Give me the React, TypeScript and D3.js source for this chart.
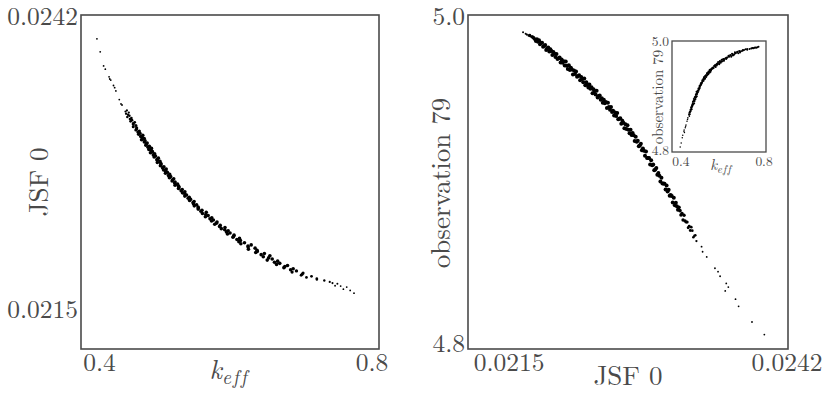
import { useRef, useEffect } from "react";
import * as d3 from "d3";

// posterior samples (same sample order in each array)
const keffSamples = [
  0.3962, 0.4010, 0.4060, 0.4085, 0.4140, 0.4150, 0.4165, 0.4205, 0.4222, 0.4240, 0.4290, 0.4315, 0.4330,
  0.4402, 0.4381, 0.4430, 0.4390, 0.4419, 0.4439, 0.4408, 0.4468, 0.4447, 0.4477, 0.4456, 0.4516, 0.4495,
  0.4495, 0.4535, 0.4495, 0.4545, 0.4545, 0.4534, 0.4584, 0.4564, 0.4594, 0.4574,
  0.4635, 0.4605, 0.4626, 0.4656, 0.4617, 0.4668, 0.4658, 0.4699, 0.4689, 0.4680,
  0.4731, 0.4712, 0.4763, 0.4724, 0.4756, 0.4777, 0.4748, 0.4809, 0.4790, 0.4821,
  0.4802, 0.4864, 0.4845, 0.4847, 0.4888, 0.4849, 0.4901, 0.4902, 0.4894, 0.4945,
  0.4927, 0.4979, 0.4941, 0.4973, 0.4996, 0.4968, 0.5030, 0.5012, 0.5044, 0.5026,
  0.5089, 0.5073, 0.5066, 0.5109, 0.5103, 0.5146, 0.5109, 0.5162, 0.5166, 0.5159,
  0.5214, 0.5198, 0.5253, 0.5218, 0.5253, 0.5277, 0.5252, 0.5317, 0.5301, 0.5336,
  0.5322, 0.5388, 0.5373, 0.5379, 0.5425, 0.5391, 0.5447, 0.5452, 0.5448, 0.5504,
  0.5488, 0.5567, 0.5511, 0.5560, 0.5595, 0.5554, 0.5648, 0.5622, 0.5671, 0.5645,
  0.5725, 0.5716, 0.5691, 0.5772, 0.5762, 0.5842, 0.5788, 0.5838, 0.5889, 0.5864,
  0.5916, 0.5878, 0.5975, 0.5967, 0.5959, 0.6055, 0.6017, 0.6069, 0.6046, 0.6128,
  0.6075, 0.6227, 0.6180, 0.6182, 0.6284, 0.6186, 0.6313, 0.6316, 0.6293, 0.6420,
  0.6373, 0.6501, 0.6404, 0.6482, 0.6535, 0.6462, 0.6615, 0.6568, 0.6646, 0.6599,
  0.6760, 0.6721, 0.6707, 0.6843, 0.6805, 0.6891, 0.6827, 0.6988, 0.6974, 0.6960,
  0.7112, 0.7038, 0.7190, 0.7191,
  0.7300, 0.7380, 0.7420, 0.7458, 0.7492, 0.7540, 0.7580, 0.7629, 0.7680, 0.7736,
];

const jsfSamples = [
  0.02398, 0.02386, 0.02373, 0.02370, 0.02363, 0.02361, 0.02360, 0.02355, 0.02353, 0.02350, 0.02342, 0.02338, 0.02337,
  0.02332, 0.02331, 0.02330, 0.02329, 0.02328, 0.02327, 0.02326, 0.02325, 0.02324, 0.02323, 0.02322, 0.02321, 0.02320,
  0.02319, 0.02318, 0.02317, 0.02316, 0.02315, 0.02314, 0.02313, 0.02312, 0.02311, 0.02310,
  0.02309, 0.02308, 0.02307, 0.02306, 0.02305, 0.02304, 0.02303, 0.02302, 0.02301, 0.02300,
  0.02299, 0.02298, 0.02297, 0.02296, 0.02295, 0.02294, 0.02293, 0.02292, 0.02291, 0.02290,
  0.02289, 0.02288, 0.02287, 0.02286, 0.02285, 0.02284, 0.02283, 0.02282, 0.02281, 0.02280,
  0.02279, 0.02278, 0.02277, 0.02276, 0.02275, 0.02274, 0.02273, 0.02272, 0.02271, 0.02270,
  0.02269, 0.02268, 0.02267, 0.02266, 0.02265, 0.02264, 0.02263, 0.02262, 0.02261, 0.02260,
  0.02259, 0.02258, 0.02257, 0.02256, 0.02255, 0.02254, 0.02253, 0.02252, 0.02251, 0.02250,
  0.02249, 0.02248, 0.02247, 0.02246, 0.02245, 0.02244, 0.02243, 0.02242, 0.02241, 0.02240,
  0.02239, 0.02238, 0.02237, 0.02236, 0.02235, 0.02234, 0.02233, 0.02232, 0.02231, 0.02230,
  0.02229, 0.02228, 0.02227, 0.02226, 0.02225, 0.02224, 0.02223, 0.02222, 0.02221, 0.02220,
  0.02219, 0.02218, 0.02217, 0.02216, 0.02215, 0.02214, 0.02213, 0.02212, 0.02211, 0.02210,
  0.02209, 0.02208, 0.02207, 0.02206, 0.02205, 0.02204, 0.02203, 0.02202, 0.02201, 0.02200,
  0.02199, 0.02198, 0.02197, 0.02196, 0.02195, 0.02194, 0.02193, 0.02192, 0.02191, 0.02190,
  0.02189, 0.02188, 0.02187, 0.02186, 0.02185, 0.02184, 0.02183, 0.02182, 0.02181, 0.02180,
  0.02179, 0.02178, 0.02177, 0.02176,
  0.021752, 0.021738, 0.021728, 0.021703, 0.021721, 0.021700, 0.021672, 0.021691, 0.021660, 0.021635,
];

const obsSamples = [
  4.8045, 4.8122, 4.8218, 4.8262, 4.8336, 4.8358, 4.8312, 4.8402, 4.8430, 4.8451, 4.8520, 4.8552, 4.8583,
  4.8617, 4.8653, 4.8650, 4.8640, 4.8681, 4.8702, 4.8682, 4.8708, 4.8698, 4.8734, 4.8734, 4.8740, 4.8775,
  4.8746, 4.8786, 4.8777, 4.8803, 4.8824, 4.8809, 4.8830, 4.8851, 4.8836, 4.8882,
  4.8853, 4.8893, 4.8899, 4.8895, 4.8931, 4.8921, 4.8957, 4.8933, 4.8968, 4.8969,
  4.8970, 4.9005, 4.8981, 4.9017, 4.9033, 4.9023, 4.9064, 4.9055, 4.9050, 4.9086,
  4.9081, 4.9111, 4.9085, 4.9125, 4.9125, 4.9125, 4.9165, 4.9139, 4.9169, 4.9184,
  4.9173, 4.9213, 4.9202, 4.9197, 4.9231, 4.9225, 4.9255, 4.9229, 4.9264, 4.9278,
  4.9266, 4.9298, 4.9276, 4.9298, 4.9326, 4.9303, 4.9331, 4.9308, 4.9341, 4.9353,
  4.9335, 4.9368, 4.9365, 4.9362, 4.9400, 4.9382, 4.9404, 4.9386, 4.9414, 4.9406,
  4.9438, 4.9420, 4.9437, 4.9464, 4.9431, 4.9468, 4.9460, 4.9482, 4.9464, 4.9491,
  4.9482, 4.9508, 4.9505, 4.9496, 4.9537, 4.9513, 4.9534, 4.9546, 4.9522, 4.9558,
  4.9549, 4.9575, 4.9557, 4.9573, 4.9589, 4.9570, 4.9611, 4.9588, 4.9609, 4.9620,
  4.9601, 4.9631, 4.9627, 4.9623, 4.9654, 4.9639, 4.9660, 4.9636, 4.9666, 4.9677,
  4.9663, 4.9693, 4.9669, 4.9690, 4.9716, 4.9691, 4.9717, 4.9708, 4.9728, 4.9709,
  4.9740, 4.9735, 4.9731, 4.9762, 4.9743, 4.9763, 4.9774, 4.9755, 4.9780, 4.9791,
  4.9776, 4.9801, 4.9796, 4.9786, 4.9816, 4.9811, 4.9806, 4.9831, 4.9831, 4.9821,
  4.9846, 4.9836, 4.9851, 4.9841,
  4.9851, 4.9860, 4.9866, 4.9872, 4.9867, 4.9876, 4.9880, 4.9875, 4.9885, 4.9895,
];

const keffTicks = [0.4, 0.8];
const jsfTicks = [0.0215, 0.0242];
const obsTicks = [4.8, 5.0];

const FONT = "Latin Modern Roman";
const INK = "#4a4a4a";

function drawPanel(root, p) {
  const [x0, y0, x1, y1] = p.box;
  const x = d3.scaleLinear().domain(p.xDomain).range([x0, x1]);
  const y = d3.scaleLinear().domain(p.yDomain).range([y1, y0]);
  const g = root.append("g");

  g.append("rect")
    .attr("x", x0).attr("y", y0)
    .attr("width", x1 - x0).attr("height", y1 - y0)
    .attr("fill", "#fff");

  // dot size shrinks towards the sparse ends of the cloud
  g.append("g")
    .selectAll("circle")
    .data(p.xs.map((v, i) => [v, p.ys[i], jsfSamples[i]]))
    .join("circle")
    .attr("cx", d => x(d[0]))
    .attr("cy", d => y(d[1]))
    .attr("r", d => p.rOf(d[2]))
    .attr("fill", "#000");

  g.append("rect")
    .attr("x", x0).attr("y", y0)
    .attr("width", x1 - x0).attr("height", y1 - y0)
    .attr("fill", "none")
    .attr("stroke", INK)
    .attr("stroke-width", p.frame);

  g.append("g")
    .selectAll("text")
    .data(p.xTicks)
    .join("text")
    .attr("x", d => x(d))
    .attr("y", y1 + p.tickGap)
    .attr("text-anchor", "middle")
    .style("font-family", FONT)
    .attr("font-size", p.tickSize)
    .attr("fill", INK)
    .text(d => p.xFmt(d));

  g.append("g")
    .selectAll("text")
    .data(p.yTicks)
    .join("text")
    .attr("x", x0 - 3)
    .attr("y", d => y(d))
    .attr("dy", "0.4em")
    .attr("text-anchor", "end")
    .style("font-family", FONT)
    .attr("font-size", p.tickSize)
    .attr("fill", INK)
    .text(d => p.yFmt(d));

  // y title, rotated
  g.append("text")
    .attr("transform", `translate(${p.yTitle.x},${p.yTitle.y}) rotate(-90)`)
    .attr("text-anchor", "middle")
    .style("font-family", FONT)
    .attr("font-size", p.titleSize)
    .attr("fill", INK)
    .text(p.yTitle.text);

  // x title, either plain or k_eff
  const xt = g.append("text")
    .attr("x", p.xTitle.x)
    .attr("y", p.xTitle.y)
    .attr("text-anchor", "middle")
    .style("font-family", FONT)
    .attr("font-size", p.titleSize)
    .attr("fill", INK);
  if (p.xTitle.text === "keff") {
    xt.append("tspan").attr("font-style", "italic").text("k");
    xt.append("tspan")
      .attr("font-style", "italic")
      .attr("font-size", p.titleSize * 0.72)
      .attr("letter-spacing", p.titleSize * 0.07)
      .attr("dy", p.titleSize * 0.2)
      .text("eff");
  } else {
    xt.text(p.xTitle.text);
  }
}

function drawChart(svgRef) {
  const svg = d3.select(svgRef.current);
  svg.selectAll("*").remove();

  const f4 = d3.format(".4f");
  const f1 = d3.format(".1f");

  drawPanel(svg, {
    box: [81, 15, 379, 349],
    xDomain: [0.3728, 0.8103], yDomain: [0.02112, 0.0242],
    xs: keffSamples, ys: jsfSamples, frame: 1.6,
    rOf: d3.scaleLinear().domain([0.02170, 0.02186, 0.02308, 0.02338]).range([0.9, 1.8, 1.8, 0.9]).clamp(true),
    xTicks: keffTicks, yTicks: jsfTicks, xFmt: f1, yFmt: f4,
    tickSize: 25.5, tickGap: 22, titleSize: 27,
    yTitle: { text: "JSF 0", x: 48, y: 182 },
    xTitle: { text: "keff", x: 229, y: 379 },
  });

  drawPanel(svg, {
    box: [468, 15, 788, 349],
    xDomain: [0.0211, 0.02421], yDomain: [4.7957, 5.0],
    xs: jsfSamples, ys: obsSamples, frame: 1.6,
    rOf: d3.scaleLinear().domain([0.02166, 0.02176, 0.02312, 0.02338]).range([1.0, 2.0, 2.0, 0.9]).clamp(true),
    xTicks: jsfTicks, yTicks: obsTicks, xFmt: f4, yFmt: f1,
    tickSize: 25.5, tickGap: 22, titleSize: 27,
    yTitle: { text: "observation 79", x: 450, y: 183 },
    xTitle: { text: "JSF 0", x: 628, y: 385 },
  });

  // inset: k_eff against observation 79
  drawPanel(svg, {
    box: [672, 41, 766, 152],
    xDomain: [0.3566, 0.8096], yDomain: [4.7954, 5.0],
    xs: keffSamples, ys: obsSamples, frame: 1.3,
    rOf: d3.scaleLinear().domain([0.02320, 0.02340]).range([1.0, 0.75]).clamp(true),
    xTicks: keffTicks, yTicks: obsTicks, xFmt: f1, yFmt: f1,
    tickSize: 13.5, tickGap: 14, titleSize: 15,
    yTitle: { text: "observation 79", x: 663, y: 97 },
    xTitle: { text: "keff", x: 721, y: 170 },
  });
}

export default function App() {
  const svg = useRef(null);
  useEffect(() => {
    drawChart(svg);
  }, [svg]);

  return (
    <svg
      ref={svg}
      width={831}
      height={394}
      viewBox="0 0 831 394"
      style={{ position: "absolute", left: 0, top: 0, background: "#fff" }}
    />
  );
}
